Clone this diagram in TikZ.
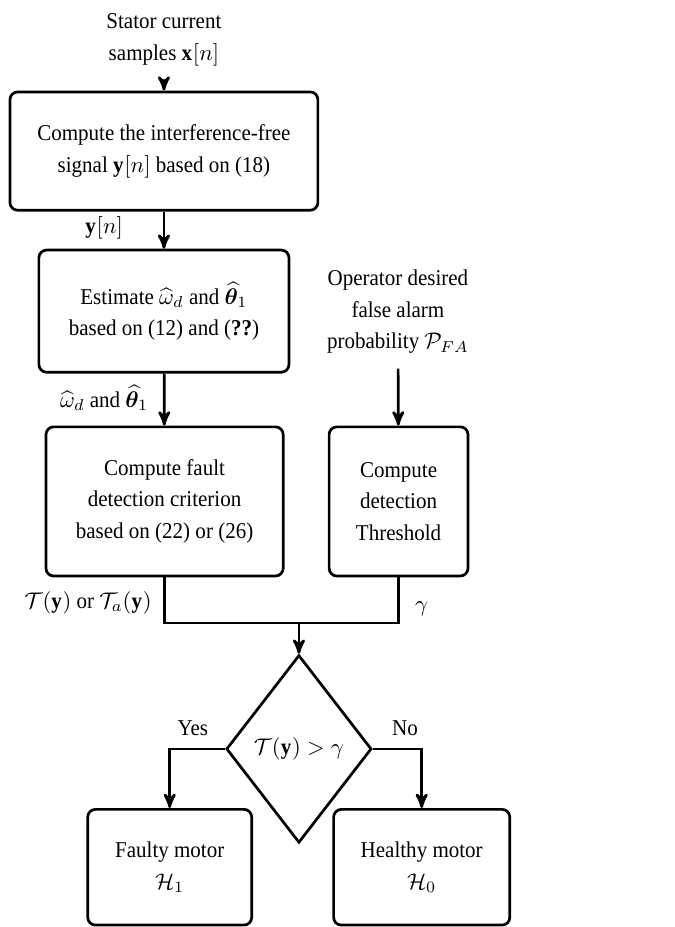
\documentclass[tikz,border=0pt]{standalone}
\usepackage{fontspec}
\setmainfont{Liberation Serif}[FakeStretch=0.93]
\usepackage{amsmath}
\usepackage{bm}
\usetikzlibrary{arrows,shapes.geometric}
\tikzstyle{block}=[rectangle, rounded corners=1.2mm, draw=black, align=center, inner sep=0pt]
\tikzstyle{decision}=[diamond, draw=black, aspect=0.77, inner sep=0pt]
\tikzstyle{plain}=[align=center, inner sep=6pt]

\begin{document}
\begin{tikzpicture}[line width=1.2pt, >=stealth', font=\fontsize{10}{14}\selectfont]
			\useasboundingbox (0,0) rectangle (10.5,-14.42);
			\node[plain] (in) at (2.55,-0.62) {Stator current\\samples $\mathbf{x}[n]$};
			\node[block, minimum width=4.79cm, minimum height=1.84cm] (b1) at (2.55,-2.35) {Compute the interference-free\\signal $\mathbf{y}[n]$ based on (18)};
			\node[block, minimum width=3.89cm, minimum height=1.90cm] (b2) at (2.55,-4.84) {Estimate $\widehat{\omega}_d$ and $\widehat{\bm{\theta}}_1$\\based on (12) and (\textbf{??})};
			\node[plain] (op) at (6.19,-4.85) {Operator desired\\false alarm\\probability $\mathcal{P}_{FA}$};
			\node[block, minimum width=3.69cm, minimum height=2.32cm] (b3) at (2.56,-7.80) {Compute fault\\detection criterion\\based on (22) or (26)};
			\node[block, minimum width=2.16cm, minimum height=2.32cm] (b4) at (6.20,-7.80) {Compute\\detection\\Threshold};
			\coordinate (join) at (4.65,-9.69);
			\node[decision, minimum width=2.26cm, minimum height=2.92cm] (dec) at (4.65,-11.65) {$\mathcal{T}(\mathbf{y})>\gamma$};
			\node[block, minimum width=2.55cm, minimum height=1.80cm] (b5) at (2.64,-13.49) {Faulty motor\\$\mathcal{H}_1$};
			\node[block, minimum width=2.74cm, minimum height=1.80cm] (b6) at (6.56,-13.49) {Healthy motor\\$\mathcal{H}_0$};
			\node (ly) at (1.62,-3.55) {$\mathbf{y}[n]$};
			\node (lest) at (1.62,-6.19) {$\widehat{\omega}_d$ and $\widehat{\bm{\theta}}_1$};
			\node (lt) at (1.37,-9.37) {$\mathcal{T}(\mathbf{y})$ or $\mathcal{T}_a(\mathbf{y})$};
			\node (lg) at (6.56,-9.47) {$\gamma$};
			\node (lyes) at (3.00,-11.32) {Yes};
			\node (lno) at (6.30,-11.32) {No};
			\path[draw=black,->] (in)--(b1);
			\path[draw=black,->] (b1)--(b2);
			\path[draw=black,->] (b2)--(b3);
			\path[draw=black,->] (op)--(b4);
			\path[draw=black] (b3.south)|-(join)-|(b4.south);
			\path[draw=black,->] (join)--(dec);
			\path[draw=black,->] (dec.west)-|(b5.north);
			\path[draw=black,->] (dec.east)-|(b6.north);
		\end{tikzpicture}
\end{document}
